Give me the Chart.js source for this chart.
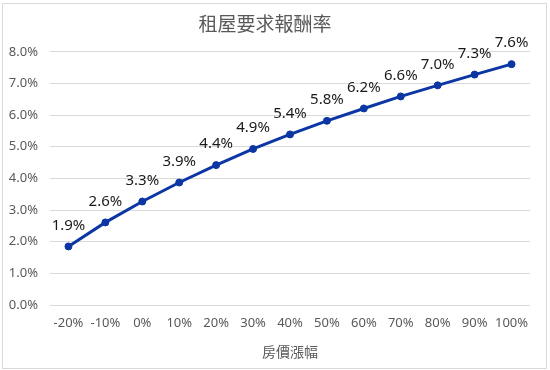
<!DOCTYPE html>
<html>
<head>
<meta charset="utf-8">
<script src="https://cdn.jsdelivr.net/npm/chart.js@4/dist/chart.umd.min.js"></script>
<style>
  html, body { margin: 0; padding: 0; background: #fff; }
  #wrap { position: relative; width: 550px; height: 370px; }
  #frame { position: absolute; left: 2px; top: 3px; width: 543px; height: 364px; border: 1px solid #d9d9d9; pointer-events: none; }
  canvas { position: absolute; left: 0; top: 0; }
</style>
</head>
<body>
<div id="wrap">
  <canvas id="c" width="550" height="370"></canvas>
  <div id="frame"></div>
</div>
<script>
// Data
const chartTitle = '租屋要求報酬率';
const xAxisTitle = '房價漲幅';
const categories = ['-20%', '-10%', '0%', '10%', '20%', '30%', '40%', '50%', '60%', '70%', '80%', '90%', '100%'];
const returnRates = [1.85, 2.61, 3.27, 3.87, 4.42, 4.93, 5.39, 5.82, 6.21, 6.59, 6.94, 7.28, 7.61];
const pointLabels = ['1.9%', '2.6%', '3.3%', '3.9%', '4.4%', '4.9%', '5.4%', '5.8%', '6.2%', '6.6%', '7.0%', '7.3%', '7.6%'];
const yTicks = [0, 1, 2, 3, 4, 5, 6, 7, 8];

const labelPlugin = {
  id: 'pointLabels',
  afterDatasetsDraw(chart) {
    const ctx = chart.ctx;
    const meta = chart.getDatasetMeta(0);
    ctx.save();
    ctx.font = '15px "Noto Sans", sans-serif';
    ctx.fillStyle = '#1a1a1a';
    ctx.textAlign = 'center';
    ctx.textBaseline = 'middle';
    meta.data.forEach((pt, i) => {
      ctx.fillText(pointLabels[i], pt.x, pt.y - 21);
    });
    ctx.restore();
  }
};

new Chart(document.getElementById('c'), {
  type: 'line',
  data: {
    labels: categories,
    datasets: [{
      data: returnRates,
      borderColor: '#0B36A3',
      backgroundColor: '#0B36A3',
      borderWidth: 3,
      pointRadius: 3.5,
      pointHoverRadius: 3.5,
      pointBorderWidth: 1,
      pointBackgroundColor: '#0B36A3',
      pointBorderColor: '#0B36A3',
      tension: 0,
      fill: false,
      clip: false
    }]
  },
  options: {
    responsive: false,
    animation: false,
    devicePixelRatio: 1,
    layout: { padding: { left: 0, right: 20, top: 0, bottom: 0 } },
    plugins: {
      legend: { display: false },
      tooltip: { enabled: false },
      title: {
        display: true,
        text: chartTitle,
        color: '#595959',
        font: { family: '"Noto Sans CJK TC", sans-serif', size: 19, weight: 'normal', lineHeight: 1.2 },
        padding: { top: 12, bottom: 17 }
      }
    },
    scales: {
      x: {
        offset: true,
        grid: { display: false, drawTicks: false, offset: true },
        border: { display: false },
        ticks: {
          color: '#595959',
          font: { family: '"Noto Sans", sans-serif', size: 13 },
          padding: 10,
          maxRotation: 0,
          autoSkip: false
        },
        title: {
          display: true,
          text: xAxisTitle,
          color: '#595959',
          font: { family: '"Noto Sans CJK TC", sans-serif', size: 14, lineHeight: 1.2 },
          padding: { top: 4, bottom: 10 }
        },
        afterFit(scale) { scale.height = 65; }
      },
      y: {
        min: 0,
        max: 8,
        afterBuildTicks(scale) { scale.ticks = yTicks.map(v => ({ value: v })); },
        grid: { color: '#d9d9d9', lineWidth: 1, drawTicks: false },
        border: { display: false },
        ticks: {
          color: '#595959',
          font: { family: '"Noto Sans", sans-serif', size: 13 },
          padding: 12,
          callback: v => Number(v).toFixed(1) + '%'
        },
        afterFit(scale) { scale.width = 50; }
      }
    }
  },
  plugins: [labelPlugin]
});
</script>
</body>
</html>
